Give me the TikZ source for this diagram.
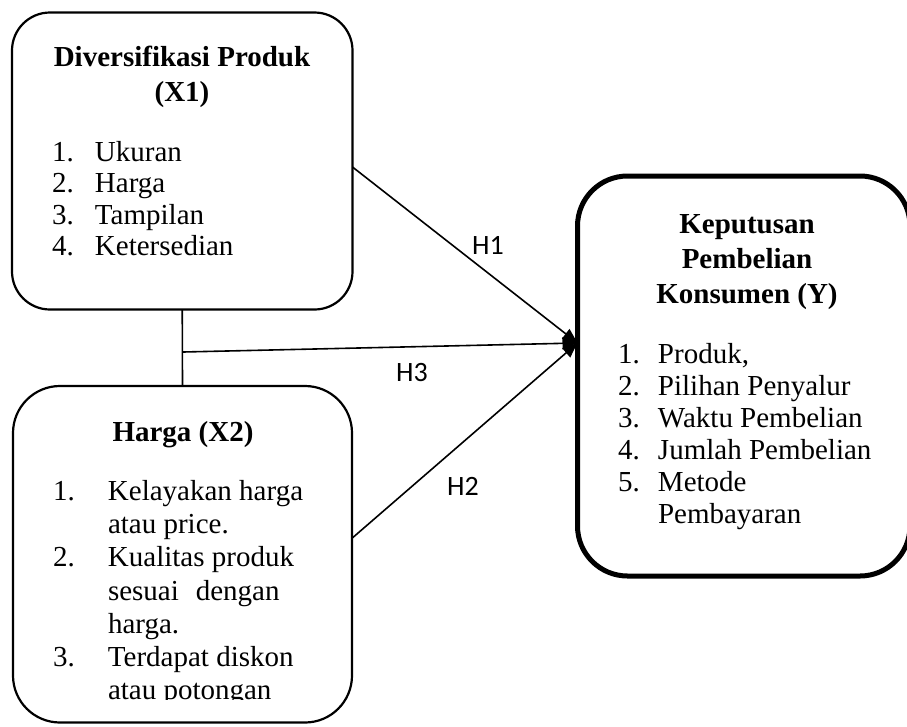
\documentclass[tikz,border=0pt]{standalone}
\usepackage{fontspec}
\setmainfont[Ligatures=NoCommon]{Liberation Serif}
\newfontfamily\labfont{Carlito}
\usetikzlibrary{arrows.meta}
\tikzset{
  boxthin/.style={draw, line width=2.2pt, inner sep=0pt, outer sep=0pt},
  boxthick/.style={draw, line width=5pt, inner sep=0pt, outer sep=0pt, rounded corners=50pt},
  txt/.style={inner sep=0pt, outer sep=0pt, anchor=base west, font=\fontsize{29}{31.5}\selectfont},
  txtb/.style={inner sep=0pt, outer sep=0pt, anchor=base, font=\fontsize{29}{35}\selectfont\bfseries},
  conn/.style={line width=1.6pt},
  arr/.style={line width=1.6pt, -{Triangle[length=15pt,width=12pt]}},
  hlab/.style={inner sep=0pt, font=\labfont\fontsize{28}{30}\selectfont},
}
\begin{document}
\begin{tikzpicture}[x=1pt,y=-1pt]
\useasboundingbox (0,0) rectangle (907,726);
\clip (0,0) rectangle (907,726);
\fill[white] (0,0) rectangle (907,726);

% boxes
\node[boxthin, rounded corners=38pt, minimum width=340.5pt, minimum height=297pt] (x1) at (182.25,161) {};
\node[boxthin, rounded corners=47pt, minimum width=339pt, minimum height=336.5pt] (x2) at (182.5,554.25) {};
\node[boxthick, minimum width=332.5pt, minimum height=400pt] (yb) at (743.75,376) {};

% box 1 text
\node[txtb] (x1t) at (182,66) {\begin{tabular}[t]{@{}c@{}}Diversifikasi Produk\\(X1)\end{tabular}};
\node[txt] (x1l) at (52,161) {\begin{tabular}[t]{@{}p{43pt}@{}l@{}}
1.&Ukuran\\
2.&Harga\\
3.&Tampilan\\
4.&Ketersedian
\end{tabular}};

% box 2 text
\node[txtb] (x2t) at (183,441) {Harga (X2)};
\begin{scope}
\clip (13,386) rectangle (352,699.5);
\node[txt, font=\fontsize{29}{33.2}\selectfont] (x2l) at (53,500.5) {\begin{tabular}[t]{@{}p{55pt}@{}l@{}}
1.&Kelayakan harga\\
&atau price.\\
2.&Kualitas produk\\
&sesuai\hspace{17pt}dengan\\
&harga.\\
3.&Terdapat diskon\\
&atau potongan
\end{tabular}};
\end{scope}

% right box text
\node[txtb] (yt) at (747,233) {\begin{tabular}[t]{@{}c@{}}Keputusan\\Pembelian\\Konsumen (Y)\end{tabular}};
\node[txt, font=\fontsize{29}{32}\selectfont] (yl) at (618,363) {\begin{tabular}[t]{@{}p{40pt}@{}l@{}}
1.&Produk,\\
2.&Pilihan Penyalur\\
3.&Waktu Pembelian\\
4.&Jumlah Pembelian\\
5.&Metode\\
&Pembayaran
\end{tabular}};

% connectors
\draw[conn] (x1.south) -- (x2.north);
\coordinate (j) at (183,352);
\draw[arr] (j) -- ([yshift=33pt]yb.west);
\draw[arr] ([yshift=-6pt]x1.east) -- ([yshift=33pt]yb.west);
\draw[arr] ([yshift=16pt]x2.east) -- ([yshift=33pt]yb.west);

% labels
\node[hlab] (h1) at (488,245) {H1};
\node[hlab] (h3) at (412,373) {H3};
\node[hlab] (h2) at (463,486) {H2};
\end{tikzpicture}
\end{document}
